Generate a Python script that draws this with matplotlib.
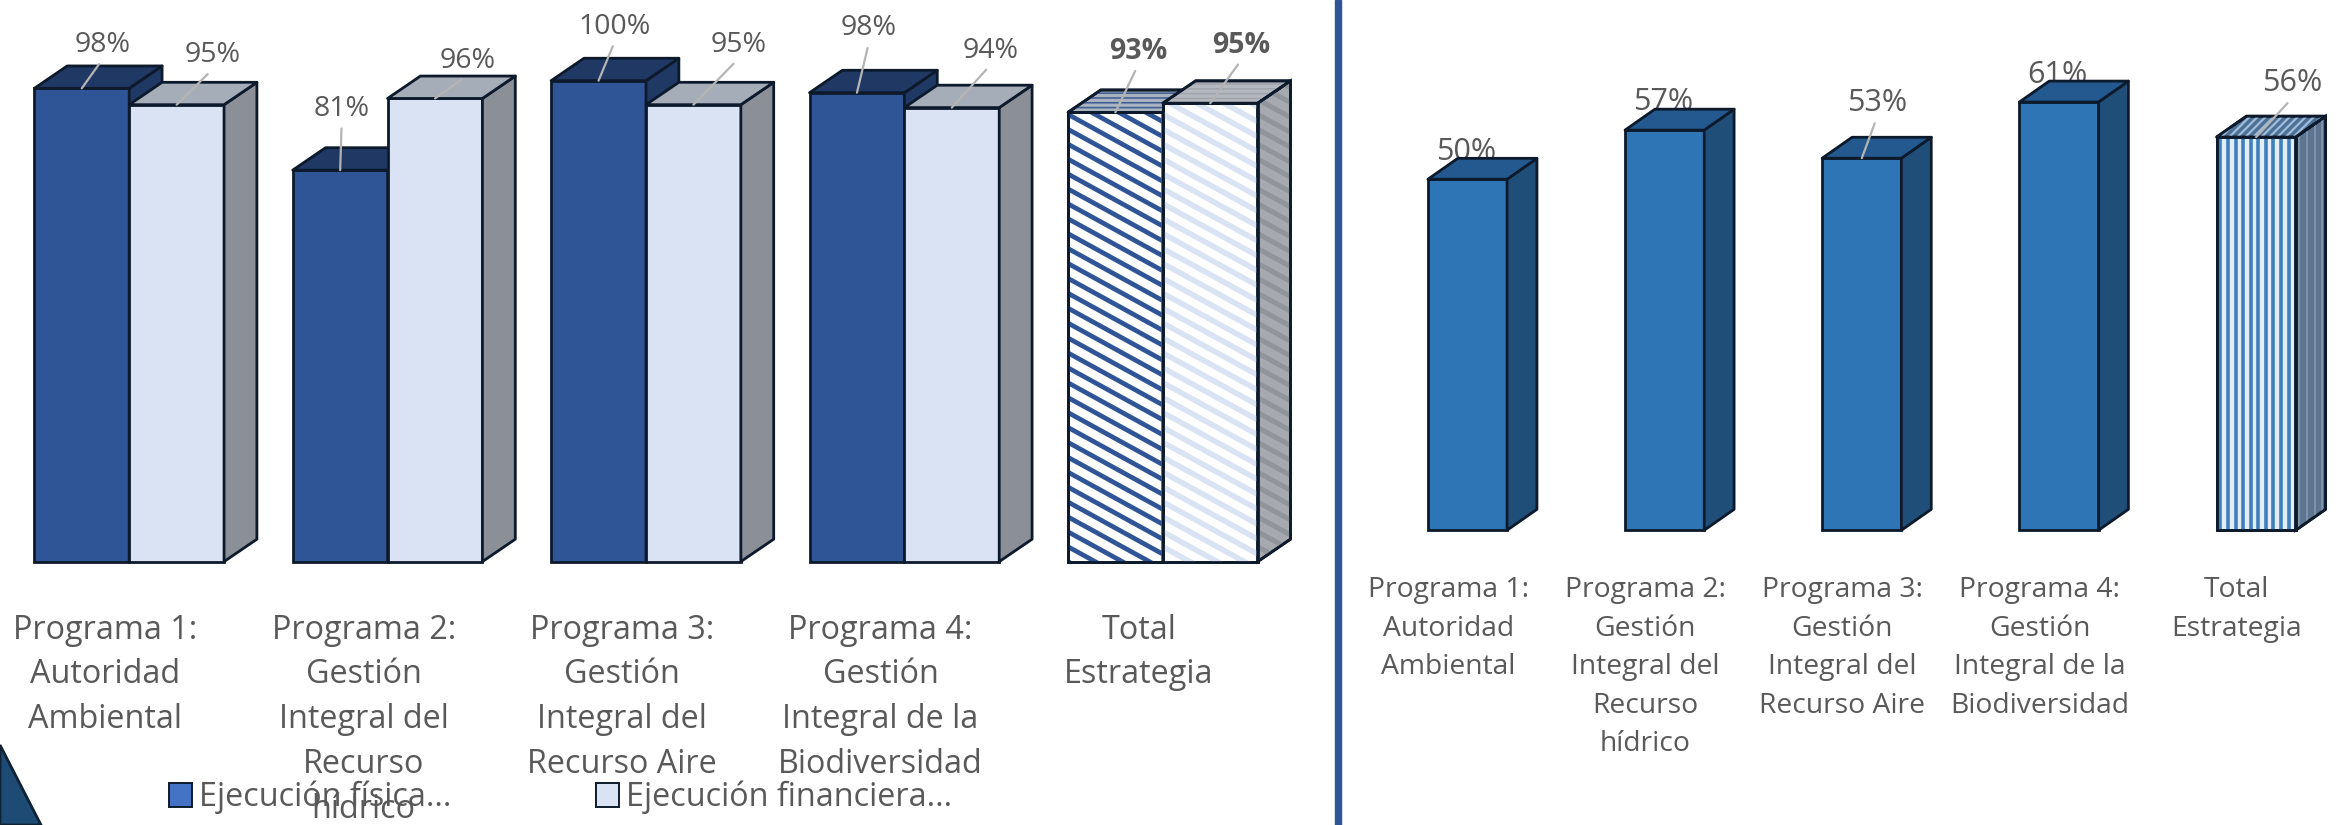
import numpy as np
import matplotlib
matplotlib.use('Agg')
from matplotlib import pyplot as plt
from matplotlib.patches import Polygon, Rectangle
from matplotlib.collections import LineCollection

plt.rcParams['font.family'] = ['Open Sans', 'DejaVu Sans']

W, H = 2342, 825
S = W / 1568  # coords below were read on the shrunk picture

categories_left = ['Programa 1:\nAutoridad\nAmbiental',
                   'Programa 2:\nGestión\nIntegral del\nRecurso\nhídrico',
                   'Programa 3:\nGestión\nIntegral del\nRecurso Aire',
                   'Programa 4:\nGestión\nIntegral de la\nBiodiversidad',
                   'Total\nEstrategia']
categories_right = ['Programa 1:\nAutoridad\nAmbiental',
                    'Programa 2:\nGestión\nIntegral del\nRecurso\nhídrico',
                    'Programa 3:\nGestión\nIntegral del\nRecurso Aire',
                    'Programa 4:\nGestión\nIntegral de la\nBiodiversidad',
                    'Total\nEstrategia']
fisica = [98.4, 81.4, 100, 97.5, 93.4]
financiera = [95.0, 96.3, 95.0, 94.4, 95.3]
avance = [50, 57, 53, 61, 56]

# label offsets from the top of each bar, in shrunk pixels
off_fisica = [(14, 29), (1, 41), (11, 36), (8, 43), (15, 41)]
off_financiera = [(24, 33), (22, 25), (30, 40), (26, 38), (21, 39)]
off_avance = [(-1, 18), (-1, 19), (10, 37), (-1, 18), (24, 36)]
leader_avance = [False, False, True, False, True]

TEXT = '#595959'
EDGE = '#0c1a2c'
LEADER = '#b4b4b4'
EW = 2.0


def make_axes(x0, x1, y_bottom, y_top):
    # pixel box on the shrunk picture to figure fractions
    ax = fig.add_axes([x0 * S / W, 1 - y_bottom * S / H,
                       (x1 - x0) * S / W, (y_bottom - y_top) * S / H])
    for s in ax.spines.values():
        s.set_visible(False)
    ax.set_yticks([])
    ax.patch.set_alpha(0)
    return ax


def stripes(ax, clip, xr, yr, slope, step, color, lw, z):
    # slope is data y per data x, step is along y; lines clipped to the face
    width = xr[1] - xr[0]
    span = abs(slope) * width + (yr[1] - yr[0])
    n = int(span / step) + 3
    segs = []
    for i in range(n):
        y = yr[0] - abs(slope) * width + i * step
        if slope < 0:
            segs.append([(xr[0], y + abs(slope) * width), (xr[1], y)])
        else:
            segs.append([(xr[0], y), (xr[1], y + slope * width)])
    lc = LineCollection(segs, colors=color, linewidths=lw, zorder=z)
    ax.add_collection(lc, autolim=False)
    lc.set_clip_path(clip)


def vstripes(ax, clip, xr, yr, step, color, lw, z):
    segs = [[(x, yr[0]), (x, yr[1])] for x in np.arange(xr[0] + step / 2, xr[1], step)]
    lc = LineCollection(segs, colors=color, linewidths=lw, zorder=z)
    ax.add_collection(lc, autolim=False)
    lc.set_clip_path(clip)


def bar3d(ax, x0, w, h, dx, dy, front, top, side, z):
    x1 = x0 + w
    f = ax.bar(x0, h, w, align='edge', color=front, edgecolor=EDGE, linewidth=EW, zorder=z)[0]
    t = Polygon([(x0, h), (x1, h), (x1 + dx, h + dy), (x0 + dx, h + dy)], closed=True,
                facecolor=top, edgecolor=EDGE, linewidth=EW, zorder=z, joinstyle='round')
    s = Polygon([(x1, 0), (x1 + dx, dy), (x1 + dx, h + dy), (x1, h)], closed=True,
                facecolor=side, edgecolor=EDGE, linewidth=EW, zorder=z, joinstyle='round')
    ax.add_patch(s)
    ax.add_patch(t)
    f.set_clip_on(False)
    t.set_clip_on(False)
    s.set_clip_on(False)
    return f, t, s


def outline(ax, patch, z):
    # redraw the edge over the stripes
    p = Polygon(patch.get_path().vertices if isinstance(patch, Polygon) else patch.get_corners(),
                closed=True, fill=False, edgecolor=EDGE, linewidth=EW, zorder=z)
    p.set_clip_on(False)
    ax.add_patch(p)


def put_label(ax, x, h, txt, off, z=6, leader=True, bold=False, size=20.5):
    ax.annotate(txt, xy=(x, h), xycoords='data',
                xytext=(off[0] * S * 0.72, off[1] * S * 0.72), textcoords='offset points',
                ha='center', va='center', fontsize=size, color=TEXT,
                fontweight='bold' if bold else 'normal', zorder=z, annotation_clip=False,
                arrowprops=dict(arrowstyle='-', color=LEADER, lw=1.6, shrinkA=2, shrinkB=0,
                                relpos=(0.5, 0)) if leader else None)


fig = plt.figure(figsize=(W / 100, H / 100), dpi=100)
fig.patch.set_facecolor('white')

# left panel
axl = make_axes(0, 865, 376, 54)
axl.set_xlim(-0.5, 4.5)
axl.set_ylim(0, 100)
bw = 63.5 / 173
ldx, ldy = 22 / 173, 15 / 3.22
pos = np.arange(5)
for i in pos:
    x0 = i - bw
    if i < 4:
        bar3d(axl, x0, bw, fisica[i], ldx, ldy, '#2f5597', '#203864', '#203864', 3)
        bar3d(axl, i, bw, financiera[i], ldx, ldy, '#dae3f3', '#a5adb9', '#8a8f98', 4)
    else:
        f, t, s = bar3d(axl, x0, bw, fisica[i], ldx, ldy, 'white', '#a9b2c0', '#203864', 3)
        stripes(axl, f, (x0, x0 + bw), (0, fisica[i]), -29.5, 3.1, '#2f5597', 3.4, 3.1)
        stripes(axl, t, (x0, x0 + bw + ldx), (fisica[i], fisica[i] + ldy), 0.0001, 1.0, '#3d5c8f', 1.1, 3.1)
        outline(axl, f, 3.2)
        outline(axl, t, 3.2)
        f, t, s = bar3d(axl, i, bw, financiera[i], ldx, ldy, 'white', '#b4b9c0', '#a6aab0', 4)
        stripes(axl, f, (i, i + bw), (0, financiera[i]), -29.5, 3.1, '#dae3f3', 4.0, 4.1)
        stripes(axl, t, (i, i + bw + ldx), (financiera[i], financiera[i] + ldy), 0.0001, 1.0, '#a0a5ad', 1.1, 4.1)
        stripes(axl, s, (i + bw, i + bw + ldx), (0, financiera[i] + ldy), -29.5, 3.1, '#90949b', 3.6, 4.1)
        outline(axl, f, 4.2)
        outline(axl, t, 4.2)
        outline(axl, s, 4.2)
    put_label(axl, x0 + bw / 2, fisica[i], f'{fisica[i]:.0f}%', off_fisica[i], bold=i == 4)
    put_label(axl, i + bw / 2, financiera[i], f'{financiera[i]:.0f}%', off_financiera[i], bold=i == 4)

axl.set_xticks(pos - 16 / 173, labels=categories_left, fontsize=23.3, color=TEXT, linespacing=1.47)
axl.tick_params(axis='x', length=0, pad=37.5)

# right panel
axr = make_axes(916.5, 1563.3, 355, 26)
axr.set_xlim(-0.5, 4.4)
axr.set_ylim(0, 70)
rw = 53 / 132
rdx, rdy = 20 / 132, 14 / 4.7
for i in pos:
    x0 = i - rw / 2
    if i < 4:
        bar3d(axr, x0, rw, avance[i], rdx, rdy, '#2e75b6', '#23598f', '#1f4e79', 3)
    else:
        f, t, s = bar3d(axr, x0, rw, avance[i], rdx, rdy, '#e4eef8', '#4d7096', '#5d7590', 3)
        vstripes(axr, f, (x0, x0 + rw), (0, avance[i]), 0.0385, '#3f7fbe', 2.6, 3.1)
        stripes(axr, t, (x0, x0 + rw + rdx), (avance[i], avance[i] + rdy), 28, 1.14, '#a0bcd8', 1.6, 3.1)
        vstripes(axr, s, (x0 + rw, x0 + rw + rdx), (0, avance[i] + rdy), 0.0385, '#7d93aa', 1.4, 3.1)
        outline(axr, f, 3.2)
        outline(axr, t, 3.2)
        outline(axr, s, 3.2)
    put_label(axr, i, avance[i], f'{avance[i]}%', off_avance[i],
              z=1 if not leader_avance[i] else 6, leader=leader_avance[i], size=22)

axr.set_xticks(pos - 13 / 132, labels=categories_right, fontsize=20.3, color=TEXT, linespacing=1.5)
axr.tick_params(axis='x', length=0, pad=33)

# legend
handles = [Rectangle((0, 0), 1, 1, facecolor='#4472c4', edgecolor=EDGE, linewidth=1.4),
           Rectangle((0, 0), 1, 1, facecolor='#dae3f3', edgecolor=EDGE, linewidth=1.4)]
fig.legend(handles, ['Ejecución física...', 'Ejecución financiera...'], ncol=2, frameon=False,
           fontsize=23.3, labelcolor=TEXT, handlelength=0.72, handleheight=0.72, handletextpad=0.22,
           columnspacing=4.45, loc='center left', bbox_to_anchor=(113 * S / W, 1 - 534 * S / H),
           borderaxespad=0, borderpad=0)

# panel divider and corner of the slide artwork
fig.add_artist(Rectangle((1335 / W, 0), 6 / W, 1, transform=fig.transFigure, color='#2f5597'))
fig.add_artist(Polygon([(0, 1 - 745 / H), (41 / W, 0), (0, 0)], closed=True, transform=fig.transFigure,
                       facecolor='#1d4b74', edgecolor='#0e2233', linewidth=2))

fig.savefig('out.png', dpi=100)
